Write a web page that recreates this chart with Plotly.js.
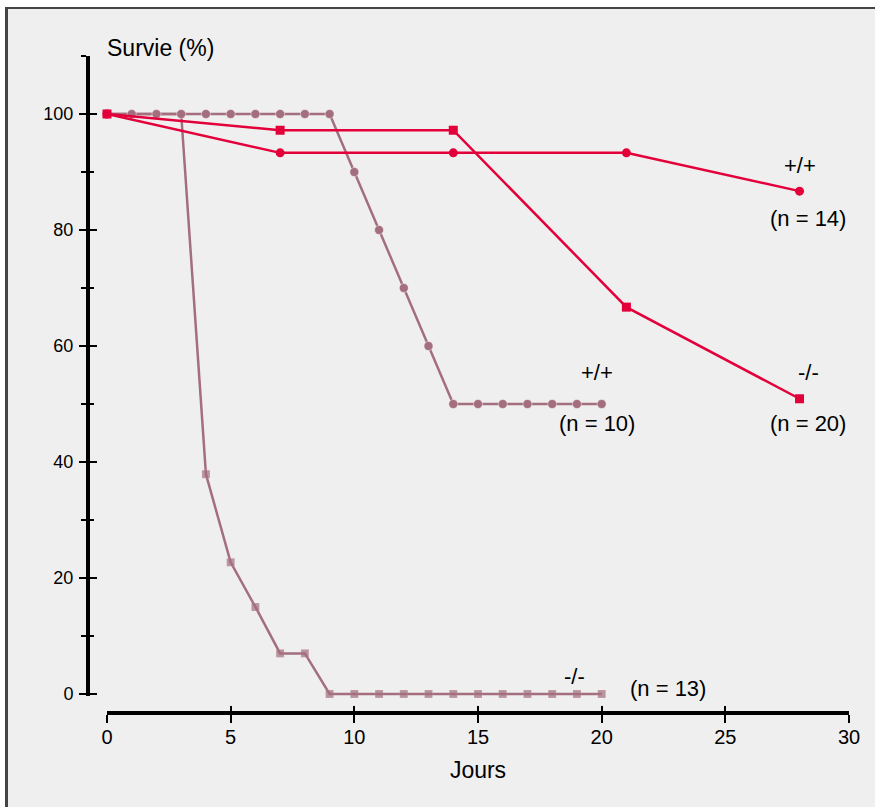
<!DOCTYPE html>
<html>
<head>
<meta charset="utf-8">
<script src="https://cdn.plot.ly/plotly-3.0.1.min.js"></script>
<style>
  html, body { margin: 0; padding: 0; background: #ffffff; }
  #chart { position: absolute; left: 0; top: 0; width: 875px; height: 807px; }
  .strip { position: absolute; pointer-events: none; }
</style>
</head>
<body>
<div id="chart"></div>
<div class="strip" style="left:0;top:0;width:875px;height:7px;background:#ffffff;"></div>
<div class="strip" style="left:0;top:0;width:5px;height:807px;background:#ffffff;"></div>
<div class="strip" style="left:5px;top:7px;width:870px;height:2px;background:#444444;"></div>
<div class="strip" style="left:5px;top:7px;width:3px;height:800px;background:#444444;"></div>
<script>
// ---- data ----
// Bright red series
const redWT_days   = [0, 7, 14, 21, 28];
const redWT_surv   = [100, 93.3, 93.3, 93.3, 86.7];      // +/+ (n = 14)
const redKO_days   = [0, 7, 14, 21, 28];
const redKO_surv   = [100, 97.2, 97.2, 66.7, 50.9];      // -/- (n = 20)

// Mauve series (daily)
const mauveWT_days = [0,1,2,3,4,5,6,7,8,9,10,11,12,13,14,15,16,17,18,19,20];
const mauveWT_surv = [100,100,100,100,100,100,100,100,100,100,90,80,70,60,50,50,50,50,50,50,50]; // +/+ (n = 10)
const mauveKO_days = [0,1,2,3,4,5,6,7,8,9,10,11,12,13,14,15,16,17,18,19,20];
const mauveKO_surv = [100,100,100,100,37.9,22.7,15,7,7,0,0,0,0,0,0,0,0,0,0,0,0];             // -/- (n = 13)

const xTicks = [0, 5, 10, 15, 20, 25, 30];
const yTicks = [0, 20, 40, 60, 80, 100];

const labels = [
  {text: '+/+',      x: 28.0, y: 91.2},
  {text: '(n = 14)', x: 28.35, y: 81.9},
  {text: '-/-',      x: 28.35, y: 55.5},
  {text: '(n = 20)', x: 28.35, y: 46.7},
  {text: '+/+',      x: 19.8, y: 55.5},
  {text: '(n = 10)', x: 19.8, y: 46.7},
  {text: '-/-',      x: 18.9, y: 3.1},
  {text: '(n = 13)', x: 22.7, y: 1.0}
];

// ---- styles ----
const RED = '#e3003a';
const MAUVE = '#a36e7d';
const FONT = 'Liberation Sans, Arial, Helvetica, sans-serif';

// markers at days already covered by the +/+ circles are not visible
const koMarkerSizes = mauveKO_days.map(d => d < 4 ? 0 : 8);

const traces = [
  {
    x: mauveKO_days, y: mauveKO_surv, type: 'scatter', mode: 'lines+markers',
    line: {color: MAUVE, width: 2.5},
    marker: {symbol: 'square', size: koMarkerSizes, color: MAUVE, line: {color: 'rgba(255,255,255,0.3)', width: 0.5}},
    cliponaxis: false, hoverinfo: 'x+y', showlegend: false
  },
  {
    x: mauveWT_days, y: mauveWT_surv, type: 'scatter', mode: 'lines+markers',
    line: {color: MAUVE, width: 2.5},
    marker: {symbol: 'circle', size: 9, color: MAUVE, line: {color: 'rgba(255,255,255,0.45)', width: 1}},
    cliponaxis: false, hoverinfo: 'x+y', showlegend: false
  },
  {
    x: redWT_days, y: redWT_surv, type: 'scatter', mode: 'lines+markers',
    line: {color: RED, width: 2.5},
    marker: {symbol: 'circle', size: 9, color: RED},
    cliponaxis: false, hoverinfo: 'x+y', showlegend: false
  },
  {
    x: redKO_days, y: redKO_surv, type: 'scatter', mode: 'lines+markers',
    line: {color: RED, width: 2.5},
    marker: {symbol: 'square', size: 9, color: RED},
    cliponaxis: false, hoverinfo: 'x+y', showlegend: false
  }
];

const W = 875, H = 807;
const mL = 88, mR = 26, mT = 56, mB = 94;
const pw = W - mL - mR, ph = H - mT - mB;
const xDomStart = (107 - mL) / pw;
const yDomStart = (713 - 696.3) / ph;

const axisCommon = {
  showgrid: false, zeroline: false,
  linecolor: '#000000', linewidth: 4,
  tickcolor: '#000000', tickwidth: 2
};

const layout = {
  width: W, height: H,
  margin: {l: mL, r: mR, t: mT, b: mB, pad: 0},
  paper_bgcolor: '#efefef', plot_bgcolor: 'rgba(0,0,0,0)',
  font: {family: FONT, color: '#000000'},
  showlegend: false,
  xaxis: Object.assign({}, axisCommon, {
    domain: [xDomStart, 1], range: [0, 30], anchor: 'free', position: 0,
    showline: true, ticks: 'outside', ticklen: 8, ticklabelstandoff: -3,
    tickfont: {family: FONT, size: 20, color: '#000000'},
    tickmode: 'array', tickvals: xTicks, ticktext: xTicks.map(String),
    title: {text: 'Jours', font: {family: FONT, size: 23, color: '#000000'}, standoff: 14}
  }),
  xaxis2: Object.assign({}, axisCommon, {
    overlaying: 'x', range: [0, 30], anchor: 'free', position: 0,
    showline: false, ticks: 'inside', ticklen: 7, showticklabels: false,
    tickmode: 'array', tickvals: xTicks
  }),
  yaxis: Object.assign({}, axisCommon, {
    domain: [yDomStart, 1], range: [-0.4, 110], anchor: 'free', position: 0,
    showline: true, ticks: 'outside', ticklen: 7, ticklabelstandoff: 2,
    tickfont: {family: FONT, size: 18, color: '#000000'},
    tickmode: 'array', tickvals: yTicks, ticktext: yTicks.map(String),
    minor: {tickvals: [10, 30, 50, 70, 90, 110], ticks: 'outside', ticklen: 5, tickwidth: 2, tickcolor: '#000000'}
  }),
  yaxis2: Object.assign({}, axisCommon, {
    overlaying: 'y', range: [-0.4, 110], anchor: 'free', position: 0,
    showline: false, ticks: 'inside', ticklen: 8, showticklabels: false,
    tickmode: 'array', tickvals: yTicks,
    minor: {tickvals: [10, 30, 50, 70, 90, 110], ticks: 'inside', ticklen: 5, tickwidth: 2, tickcolor: '#000000'}
  }),
  annotations: labels.map(l => ({
    text: l.text, x: l.x, y: l.y, xref: 'x', yref: 'y',
    showarrow: false, xanchor: 'center', yanchor: 'middle',
    font: {family: FONT, size: 22, color: '#000000'}
  })).concat([{
    text: 'Survie (%)', xref: 'paper', yref: 'paper',
    x: (105 - mL) / pw, y: 1 + (mT - 48) / ph, xanchor: 'left', yanchor: 'middle',
    showarrow: false, font: {family: FONT, size: 23, color: '#000000'}
  }])
};

// dummy trace to activate the overlay axes (for two-sided ticks)
traces.push({x: [0], y: [0], xaxis: 'x2', yaxis: 'y2', type: 'scatter', mode: 'markers',
  marker: {opacity: 0}, hoverinfo: 'skip', showlegend: false});

Plotly.newPlot('chart', traces, layout, {displayModeBar: false, staticPlot: true});
</script>
</body>
</html>
